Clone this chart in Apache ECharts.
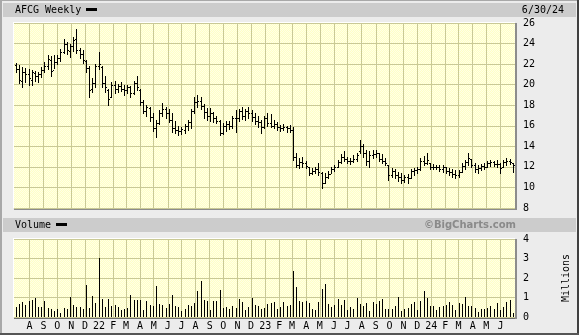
<!DOCTYPE html>
<html><head><meta charset="utf-8">
<script src="https://cdn.jsdelivr.net/npm/echarts/dist/echarts.min.js"></script>
<style>html,body{margin:0;padding:0;background:#ececec;}#c{width:579px;height:335px;}</style>
</head><body><div id="c"></div><script>
// ---- DATA ----
const ticker = 'AFCG Weekly';
const asOfDate = '6/30/24';
const firstWeekEnding = [2021, 7, 2]; // y, m, d : weekly bars every 7 days from here
const opens = [
21.9,21.5,20.4,21.2,21.0,20.5,21.1,20.8,21.0,21.4,
21.8,22.4,21.4,22.2,22.6,23.2,24.0,23.3,23.8,24.4,
23.4,23.0,22.3,21.6,19.6,20.2,21.8,21.7,20.2,19.5,
18.8,20.0,19.6,19.9,19.6,19.5,19.8,19.2,20.2,19.5,
18.3,17.4,17.7,16.9,15.8,16.3,17.2,17.6,17.2,16.6,
15.8,15.6,15.5,15.6,16.0,16.4,17.4,18.3,18.4,17.9,
17.3,17.0,17.2,16.8,16.5,15.3,16.0,16.2,16.0,16.8,
16.8,17.4,17.0,17.4,17.2,16.9,16.5,16.4,15.9,16.8,
16.3,16.0,16.2,15.9,15.8,15.9,15.8,15.6,13.0,12.2,
12.5,12.4,12.0,11.4,11.6,11.8,11.4,10.4,11.0,11.3,
11.8,12.0,12.5,13.0,12.8,12.6,12.6,12.8,13.5,14.0,
13.4,12.6,13.2,13.3,13.4,12.8,12.6,12.2,11.2,11.6,
11.2,11.0,10.7,11.0,10.9,11.6,11.7,11.8,12.6,12.4,
12.4,12.0,12.0,12.0,11.8,12.0,11.6,11.5,11.3,11.2,
11.5,12.1,12.5,12.8,12.2,11.8,11.9,12.1,12.0,12.4,
12.5,12.3,12.3,12.0,12.5,12.6,12.4];
const highs = [
22.1,21.9,21.7,21.6,21.5,21.4,21.3,21.2,21.7,22.2,
22.9,22.8,22.9,22.9,23.5,24.4,24.2,24.0,24.6,25.4,
23.6,23.4,22.4,21.8,20.6,22.0,23.2,21.8,20.8,19.6,
20.3,20.4,20.1,20.3,20.0,20.0,19.9,20.4,20.8,19.6,
18.5,18.0,17.8,17.2,16.6,17.5,18.2,17.8,17.6,17.2,
16.5,16.0,15.9,16.2,16.6,17.6,18.8,19.0,18.8,18.1,
17.7,17.7,17.3,17.0,16.6,16.3,16.5,16.5,17.0,17.5,
17.6,17.8,17.6,17.8,17.5,17.2,17.0,16.6,17.0,17.2,
17.1,16.6,16.4,16.1,16.2,16.0,16.1,15.9,13.4,12.9,
13.0,12.6,12.0,11.9,12.0,12.4,11.5,11.4,11.6,12.0,
12.2,12.7,13.3,13.5,13.0,12.9,13.2,13.4,14.6,14.2,
13.6,13.5,13.6,13.6,13.4,13.3,12.9,12.2,11.9,11.8,
11.5,11.4,11.2,11.3,11.8,11.9,12.0,12.9,13.1,13.4,
12.4,12.3,12.2,12.2,12.2,12.0,11.9,11.8,11.7,11.7,
12.4,12.7,13.4,12.8,12.4,12.2,12.3,12.4,12.6,12.7,
12.6,12.7,12.4,12.7,12.9,12.8,12.4];
const lows = [
21.2,20.2,19.8,20.3,20.0,20.0,20.4,20.3,20.7,21.2,
21.5,20.8,21.6,22.0,22.3,23.1,23.0,22.7,23.3,23.1,
22.6,22.1,21.2,18.8,19.3,19.8,21.5,19.8,19.3,18.0,
18.8,19.2,19.3,19.4,19.0,19.2,18.8,19.1,19.5,18.0,
17.2,17.0,16.5,15.5,14.9,16.2,17.0,16.8,16.4,15.4,
15.3,15.1,15.2,15.3,15.6,15.8,17.2,17.8,17.6,16.8,
16.6,16.5,16.4,16.3,15.1,15.2,15.5,15.7,15.8,15.4,
16.5,16.7,16.6,16.8,16.5,16.2,15.9,15.3,15.8,16.0,
15.9,15.8,15.6,15.5,15.6,15.4,15.4,12.7,12.0,11.9,
12.0,11.9,11.2,11.3,11.4,11.2,9.95,10.4,10.9,11.4,
11.6,12.0,12.4,12.6,12.4,12.3,12.5,12.6,13.4,13.0,
12.2,12.0,12.9,13.0,12.6,12.4,12.2,10.7,11.0,10.9,
10.6,10.4,10.5,10.4,10.9,11.2,11.4,11.7,12.2,12.3,
11.8,11.8,11.8,11.6,11.5,11.4,11.2,11.0,10.9,11.0,
11.5,11.8,12.2,12.0,11.5,11.4,11.7,11.8,12.0,12.1,
12.1,12.0,11.4,12.0,12.2,12.3,11.5];
const closes = [
21.5,20.5,21.2,21.0,20.6,21.2,20.8,21.0,21.4,21.8,
22.5,21.3,22.2,22.6,23.2,24.0,23.4,23.8,24.3,23.4,
23.0,22.4,21.6,19.5,20.2,21.8,22.0,20.2,19.8,18.6,
20.0,19.6,19.9,19.6,19.5,19.8,19.2,20.2,19.8,18.3,
17.4,17.8,16.9,15.8,16.3,17.2,17.6,17.2,16.6,15.8,
15.6,15.5,15.7,16.0,16.4,17.4,18.3,18.4,17.9,17.3,
17.0,17.2,16.8,16.5,15.3,16.0,16.2,16.0,16.8,16.8,
17.4,17.0,17.4,17.2,16.9,16.5,16.4,15.9,16.8,16.3,
16.0,16.2,15.9,15.8,15.9,15.8,15.6,13.0,12.2,12.5,
12.4,12.1,11.4,11.6,11.8,11.5,10.4,11.0,11.3,11.8,
12.0,12.5,13.0,12.8,12.6,12.6,12.8,13.2,14.0,13.4,
12.6,13.2,13.3,13.4,12.8,12.6,12.4,11.2,11.6,11.2,
11.0,10.7,11.0,10.9,11.6,11.7,11.8,12.6,12.4,12.7,
12.0,12.0,12.0,11.8,12.0,11.6,11.5,11.3,11.2,11.5,
12.1,12.5,12.9,12.2,11.8,11.9,12.1,12.0,12.4,12.5,
12.3,12.3,11.9,12.5,12.6,12.5,12.2];
const volumesMillions = [
0.51,0.68,0.77,0.63,0.80,0.89,1.00,0.50,0.52,0.84,
0.46,0.43,0.32,0.43,0.20,0.46,0.43,1.03,0.63,0.50,
0.52,0.43,1.66,0.45,1.09,0.72,3.03,0.94,0.51,0.94,
0.55,0.60,0.52,0.38,0.43,0.48,1.15,0.89,0.85,0.85,
0.35,0.84,0.63,0.55,1.61,0.68,0.63,0.46,0.65,1.15,
0.55,0.50,0.30,0.40,0.60,0.55,0.72,1.32,1.83,0.89,
0.80,0.38,0.80,0.80,1.40,0.46,0.50,0.43,0.55,0.45,
0.94,0.75,0.38,0.52,0.97,0.60,0.55,0.43,0.48,0.65,
0.72,0.75,0.40,0.50,0.75,0.55,0.60,2.38,1.52,0.80,
0.75,0.80,0.72,0.43,0.38,0.75,1.45,1.71,0.68,0.50,
0.63,0.94,0.63,0.89,0.38,0.51,0.43,0.97,0.68,0.55,
0.72,0.32,0.75,0.68,0.84,0.92,0.43,0.43,0.43,0.58,
1.03,0.32,0.43,0.46,0.68,0.75,0.38,0.80,1.32,1.00,
0.55,0.58,0.38,0.50,0.55,0.63,0.77,0.60,0.38,0.72,
0.67,1.03,0.55,0.58,0.46,0.26,0.43,0.43,0.46,0.55,
0.43,0.72,0.38,0.50,0.77,0.89,0.20];
const monthStarts = [
'2021-08','2021-09','2021-10','2021-11','2021-12',
'2022-01','2022-02','2022-03','2022-04','2022-05','2022-06','2022-07','2022-08','2022-09','2022-10','2022-11','2022-12',
'2023-01','2023-02','2023-03','2023-04','2023-05','2023-06','2023-07','2023-08','2023-09','2023-10','2023-11','2023-12',
'2024-01','2024-02','2024-03','2024-04','2024-05','2024-06'];
const monthLabels = [
'A','S','O','N','D',
'22','F','M','A','M','J','J','A','S','O','N','D',
'23','F','M','A','M','J','J','A','S','O','N','D',
'24','F','M','A','M','J'];
const priceAxis = {min: 8, max: 26, step: 2};
const volumeAxis = {min: 0, max: 4, step: 1, name: 'Millions'};
const axisRange = ['2021-06-28', '2024-07-03'];

// ---- BUILD ----
function t(y, m, d) { return new Date(y, m - 1, d).getTime(); }
function parseDay(s) { const p = s.split('-').map(Number); return t(p[0], p[1], p[2] || 1); }
const weekTimes = closes.map((_, i) => t(firstWeekEnding[0], firstWeekEnding[1], firstWeekEnding[2] + 7 * i));
const monthTimes = monthStarts.map(parseDay);
const labelByTime = {};
monthTimes.forEach((v, i) => { labelByTime[v] = monthLabels[i]; });
const ohlcData = weekTimes.map((v, i) => [v, opens[i], highs[i], lows[i], closes[i]]);
const volData = weekTimes.map((v, i) => [v, volumesMillions[i]]);

const pc = document.createElement('canvas'); pc.width = 2; pc.height = 2;
const pg = pc.getContext('2d');
pg.fillStyle = '#ffffc6'; pg.fillRect(0, 0, 2, 2);
pg.fillStyle = '#ffffe6'; pg.fillRect(0, 0, 1, 1); pg.fillRect(1, 1, 1, 1);
const plotBg = {image: pc, repeat: 'repeat'};

const FONT = 'DejaVu Sans Mono';
const GRIDC = '#c9c996';
const L = 14, W = 501, PT = 23, PH = 185, VT = 239, VH = 78;

function ohlcItem(params, api) {
  const x0 = api.value(0);
  const pO = api.coord([x0, api.value(1)]), pH = api.coord([x0, api.value(2)]);
  const pL = api.coord([x0, api.value(3)]), pC = api.coord([x0, api.value(4)]);
  const x = Math.round(pH[0]);
  const yH = Math.round(pH[1]), yL = Math.round(pL[1]), yO = Math.round(pO[1]), yC = Math.round(pC[1]);
  return {type: 'group', children: [
    {type: 'rect', shape: {x: x, y: yH, width: 1, height: Math.max(1, yL - yH + 1)}, style: {fill: '#000'}},
    {type: 'rect', shape: {x: x - 1, y: yO, width: 1, height: 1}, style: {fill: '#000'}},
    {type: 'rect', shape: {x: x + 1, y: yC, width: 1, height: 1}, style: {fill: '#000'}}
  ]};
}
function volItem(params, api) {
  const p0 = api.coord([api.value(0), 0]), p1 = api.coord([api.value(0), api.value(1)]);
  const x = Math.round(p1[0]), y1 = Math.round(p1[1]), y0 = Math.round(p0[1]);
  return {type: 'rect', shape: {x: x, y: y1, width: 1, height: Math.max(1, y0 - y1)}, style: {fill: '#000'}};
}

const xMin = parseDay(axisRange[0]), xMax = parseDay(axisRange[1]);
function xAxisCfg(idx, showLabels) {
  return {
    type: 'value', gridIndex: idx, min: xMin, max: xMax,
    axisLine: {show: false},
    axisTick: {show: false, customValues: monthTimes},
    splitLine: {show: true, lineStyle: {color: GRIDC, width: 1}},
    axisLabel: {show: showLabels, customValues: monthTimes, margin: 4, fontFamily: FONT, fontSize: 10, color: '#000',
      formatter: v => labelByTime[v] || ''}
  };
}
const chart = echarts.init(document.getElementById('c'), null, {renderer: 'canvas'});
chart.setOption({
  animation: false,
  backgroundColor: '#ececec',
  grid: [
    {left: L, top: PT, width: W, height: PH, show: true, backgroundColor: plotBg, borderWidth: 0},
    {left: L, top: VT, width: W, height: VH, show: true, backgroundColor: plotBg, borderWidth: 0}
  ],
  xAxis: [xAxisCfg(0, false), xAxisCfg(1, true)],
  yAxis: [
    {type: 'value', gridIndex: 0, position: 'right', min: priceAxis.min, max: priceAxis.max, interval: priceAxis.step,
      axisLine: {show: false}, axisTick: {show: false},
      splitLine: {show: true, lineStyle: {color: GRIDC, width: 1}},
      axisLabel: {margin: 8, fontFamily: FONT, fontSize: 10, color: '#000', align: 'left'}},
    {type: 'value', gridIndex: 1, position: 'right', min: volumeAxis.min, max: volumeAxis.max, interval: volumeAxis.step,
      name: volumeAxis.name, nameLocation: 'middle', nameRotate: 90, nameGap: 46,
      nameTextStyle: {fontFamily: FONT, fontSize: 10, color: '#000'},
      axisLine: {show: false}, axisTick: {show: false},
      splitLine: {show: true, lineStyle: {color: GRIDC, width: 1}},
      axisLabel: {margin: 8, fontFamily: FONT, fontSize: 10, color: '#000', align: 'left'}}
  ],
  series: [
    {type: 'custom', xAxisIndex: 0, yAxisIndex: 0, renderItem: ohlcItem, data: ohlcData,
      encode: {x: 0, y: [1, 2, 3, 4]}, clip: true, z: 5},
    {type: 'custom', xAxisIndex: 1, yAxisIndex: 1, renderItem: volItem, data: volData,
      encode: {x: 0, y: 1}, clip: true, z: 5}
  ],
  graphic: [
    // outer frame
    {type: 'rect', shape: {x: 0, y: 0, width: 2, height: 335}, style: {fill: '#a8a8a8'}, silent: true},
    {type: 'rect', shape: {x: 0, y: 0, width: 579, height: 1}, style: {fill: '#a8a8a8'}, silent: true},
    {type: 'rect', shape: {x: 577, y: 0, width: 2, height: 335}, style: {fill: '#404040'}, silent: true},
    {type: 'rect', shape: {x: 0, y: 333, width: 579, height: 2}, style: {fill: '#555555'}, silent: true},
    // header bars
    {type: 'rect', shape: {x: 3, y: 3, width: 573, height: 14}, style: {fill: '#cccccc'}, silent: true},
    {type: 'rect', shape: {x: 3, y: 218, width: 573, height: 14}, style: {fill: '#cccccc'}, silent: true},
    {type: 'text', x: 15, y: 10, style: {text: ticker, font: '10px "DejaVu Sans Mono"', fill: '#000', verticalAlign: 'middle'}},
    {type: 'rect', shape: {x: 86, y: 8, width: 11, height: 3}, style: {fill: '#000'}},
    {type: 'text', x: 564, y: 10, style: {text: asOfDate, font: '10px "DejaVu Sans Mono"', fill: '#000', align: 'right', verticalAlign: 'middle'}},
    {type: 'text', x: 15, y: 225, style: {text: 'Volume', font: '10px "DejaVu Sans Mono"', fill: '#000', verticalAlign: 'middle'}},
    {type: 'rect', shape: {x: 56, y: 223, width: 11, height: 3}, style: {fill: '#000'}},
    {type: 'text', x: 516, y: 225, style: {text: '\u00A9BigCharts.com', font: 'bold 10px "DejaVu Sans"', fill: '#8a8a8a', align: 'right', verticalAlign: 'middle'}},
    // plot 3D borders
    {type: 'rect', shape: {x: L - 1, y: PT - 1, width: W + 1, height: 1}, style: {fill: '#ffffff'}, silent: true},
    {type: 'rect', shape: {x: L - 1, y: PT - 1, width: 1, height: PH + 1}, style: {fill: '#ffffff'}, silent: true},
    {type: 'rect', shape: {x: L, y: PT + PH, width: W + 2, height: 2}, style: {fill: '#8c8c8c'}, silent: true},
    {type: 'rect', shape: {x: L + W, y: PT, width: 2, height: PH + 2}, style: {fill: '#8c8c8c'}, silent: true},
    {type: 'rect', shape: {x: L - 1, y: VT - 1, width: W + 1, height: 1}, style: {fill: '#ffffff'}, silent: true},
    {type: 'rect', shape: {x: L - 1, y: VT - 1, width: 1, height: VH + 1}, style: {fill: '#ffffff'}, silent: true},
    {type: 'rect', shape: {x: L, y: VT + VH, width: W + 2, height: 2}, style: {fill: '#6e6e6e'}, silent: true},
    {type: 'rect', shape: {x: L + W, y: VT, width: 2, height: VH + 2}, style: {fill: '#8c8c8c'}, silent: true}
  ]
});
</script></body></html>
